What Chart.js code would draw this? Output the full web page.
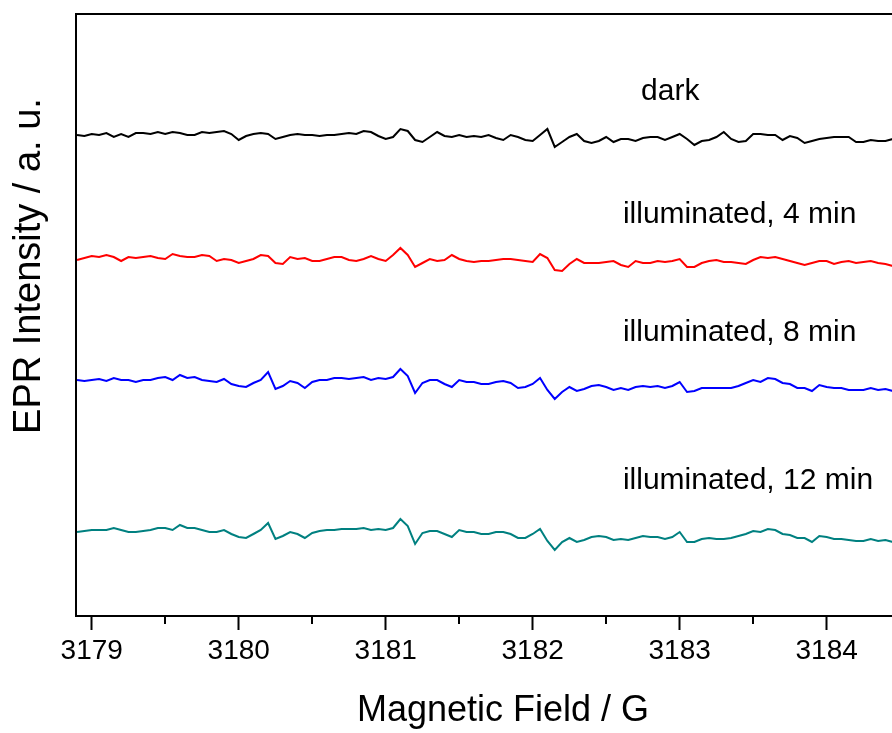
<!DOCTYPE html>
<html>
<head>
<meta charset="utf-8">
<title>EPR spectra</title>
<script src="https://cdn.jsdelivr.net/npm/chart.js@4.4.1/dist/chart.umd.min.js"></script>
<style>
  html, body { margin: 0; padding: 0; background: #fff; overflow: hidden; }
  #wrap { width: 892px; height: 733px; overflow: hidden; }
</style>
</head>
<body>
<div id="wrap"><canvas id="eprChart" width="930" height="733"></canvas></div>
<script>
'use strict';

/* --------------------------------------------------------------------------
   DATA — magnetic field (G) and stacked EPR traces (arbitrary units)
   -------------------------------------------------------------------------- */
const fieldG = [
    3178.90, 3178.95, 3179.00, 3179.05, 3179.10, 3179.15, 3179.20, 3179.25, 3179.30, 3179.35,
    3179.40, 3179.45, 3179.50, 3179.55, 3179.60, 3179.65, 3179.70, 3179.75, 3179.80, 3179.85,
    3179.90, 3179.95, 3180.00, 3180.05, 3180.10, 3180.15, 3180.20, 3180.25, 3180.30, 3180.35,
    3180.40, 3180.45, 3180.50, 3180.55, 3180.60, 3180.65, 3180.70, 3180.75, 3180.80, 3180.85,
    3180.90, 3180.95, 3181.00, 3181.05, 3181.10, 3181.15, 3181.20, 3181.25, 3181.30, 3181.35,
    3181.40, 3181.45, 3181.50, 3181.55, 3181.60, 3181.65, 3181.70, 3181.75, 3181.80, 3181.85,
    3181.90, 3181.95, 3182.00, 3182.05, 3182.10, 3182.15, 3182.20, 3182.25, 3182.30, 3182.35,
    3182.40, 3182.45, 3182.50, 3182.55, 3182.60, 3182.65, 3182.70, 3182.75, 3182.80, 3182.85,
    3182.90, 3182.95, 3183.00, 3183.05, 3183.10, 3183.15, 3183.20, 3183.25, 3183.30, 3183.35,
    3183.40, 3183.45, 3183.50, 3183.55, 3183.60, 3183.65, 3183.70, 3183.75, 3183.80, 3183.85,
    3183.90, 3183.95, 3184.00, 3184.05, 3184.10, 3184.15, 3184.20, 3184.25, 3184.30, 3184.35,
    3184.40, 3184.45
];

const darkTrace = [
    481, 480, 482, 481, 483, 479, 482, 479, 483, 483,
    482, 484, 482, 484, 483, 481, 481, 484, 483, 484,
    485, 482, 476, 480, 482, 483, 482, 477, 479, 481,
    482, 481, 481, 480, 481, 481, 482, 483, 482, 485,
    484, 480, 477, 479, 487, 485, 476, 474, 479, 484,
    480, 479, 481, 479, 480, 479, 481, 478, 476, 481,
    479, 476, 475, 481, 487, 469, 474, 479, 482, 475,
    473, 475, 479, 474, 477, 477, 475, 478, 479, 479,
    476, 479, 482, 477, 471, 475, 476, 479, 484, 477,
    474, 475, 482, 482, 481, 481, 476, 480, 478, 473,
    475, 477, 478, 479, 479, 479, 474, 474, 476, 475,
    475, 477
];

const illum4Trace = [
    356, 358, 360, 359, 361, 359, 355, 359, 358, 359,
    360, 358, 357, 362, 360, 359, 359, 361, 360, 355,
    357, 356, 353, 355, 357, 361, 360, 353, 352, 359,
    357, 358, 355, 355, 357, 359, 359, 356, 355, 357,
    360, 357, 355, 361, 368, 361, 349, 353, 357, 355,
    356, 361, 357, 355, 354, 355, 355, 356, 357, 357,
    356, 355, 354, 362, 358, 346, 345, 352, 357, 353,
    353, 353, 354, 355, 351, 349, 355, 353, 353, 355,
    354, 355, 357, 349, 349, 353, 355, 356, 354, 354,
    353, 352, 356, 359, 358, 359, 357, 355, 353, 351,
    353, 355, 355, 352, 354, 355, 353, 354, 355, 353,
    352, 350
];

const illum8Trace = [
    236, 235, 236, 237, 235, 238, 236, 236, 234, 236,
    236, 238, 239, 236, 241, 238, 239, 236, 235, 234,
    237, 232, 230, 229, 233, 236, 244, 227, 230, 235,
    233, 228, 234, 236, 236, 238, 238, 237, 238, 239,
    236, 238, 237, 239, 247, 240, 223, 233, 236, 236,
    232, 229, 236, 234, 234, 232, 232, 234, 235, 233,
    228, 229, 232, 238, 226, 217, 224, 229, 225, 227,
    230, 231, 229, 226, 228, 226, 229, 230, 229, 230,
    228, 230, 234, 224, 225, 228, 228, 228, 228, 228,
    230, 233, 236, 234, 238, 237, 233, 232, 228, 228,
    225, 231, 229, 228, 228, 226, 226, 226, 228, 226,
    227, 225
];

const illum12Trace = [
    84, 85, 86, 86, 86, 88, 86, 84, 84, 85,
    86, 88, 88, 86, 91, 88, 88, 86, 84, 84,
    86, 82, 79, 78, 82, 86, 93, 77, 80, 84,
    82, 78, 83, 85, 86, 86, 87, 87, 87, 88,
    86, 87, 86, 88, 97, 90, 72, 83, 85, 85,
    82, 79, 86, 84, 84, 82, 82, 84, 84, 82,
    78, 78, 82, 87, 75, 66, 74, 78, 74, 76,
    79, 80, 79, 76, 77, 76, 78, 80, 79, 79,
    77, 79, 84, 74, 74, 77, 78, 77, 77, 78,
    80, 82, 85, 84, 87, 86, 82, 81, 78, 78,
    74, 80, 79, 77, 77, 76, 75, 75, 77, 75,
    76, 74
];

const majorTicks = [3179, 3180, 3181, 3182, 3183, 3184];
const minorTicks = [3179.5, 3180.5, 3181.5, 3182.5, 3183.5];

const traceNames = ['dark', 'illuminated, 4 min', 'illuminated, 8 min', 'illuminated, 12 min'];
// label anchors, in field (G) / intensity units
const labelField = [3182.737, 3182.614, 3182.614, 3182.614];
const labelLevel = [516, 393, 275, 127];

/* --------------------------------------------------------------------------
   CHART
   -------------------------------------------------------------------------- */
const FONT = '"Liberation Sans", Arial, sans-serif';
Chart.defaults.font.family = FONT;
Chart.defaults.color = '#000';

const toPoints = trace => fieldG.map((f, i) => ({ x: f, y: trace[i] }));

// frame, minor ticks, trace labels and y title
const framePlugin = {
    id: 'eprFrame',
    afterDraw(chart) {
        const { ctx, chartArea: a, scales: { x, y } } = chart;
        ctx.save();
        ctx.strokeStyle = '#000';
        ctx.lineWidth = 2;
        ctx.strokeRect(a.left, a.top, a.right - a.left, a.bottom - a.top);

        minorTicks.forEach(v => {
            const px = Math.round(x.getPixelForValue(v));
            ctx.beginPath();
            ctx.moveTo(px, a.bottom);
            ctx.lineTo(px, a.bottom + 8);
            ctx.stroke();
        });

        ctx.fillStyle = '#000';
        ctx.font = '30px ' + FONT;
        ctx.textAlign = 'left';
        ctx.textBaseline = 'alphabetic';
        traceNames.forEach((t, i) => {
            ctx.fillText(t, x.getPixelForValue(labelField[i]), y.getPixelForValue(labelLevel[i]));
        });

        ctx.translate(30, 266);
        ctx.rotate(-Math.PI / 2);
        ctx.font = '38px ' + FONT;
        ctx.textAlign = 'center';
        ctx.textBaseline = 'middle';
        ctx.fillText('EPR Intensity / a. u.', 0, 0);
        ctx.restore();
    },
};

const series = [
    { label: traceNames[0], data: darkTrace, color: '#000000' },
    { label: traceNames[1], data: illum4Trace, color: '#FF0000' },
    { label: traceNames[2], data: illum8Trace, color: '#0000FF' },
    { label: traceNames[3], data: illum12Trace, color: '#008080' },
];

new Chart(document.getElementById('eprChart').getContext('2d'), {
    type: 'line',
    data: {
        datasets: series.map(s => ({
            label: s.label,
            data: toPoints(s.data),
            borderColor: s.color,
            borderWidth: 2,
            pointRadius: 0,
            tension: 0,
            fill: false,
        })),
    },
    options: {
        responsive: false,
        animation: false,
        devicePixelRatio: 1,
        layout: { padding: { top: 14, left: 0, right: 0, bottom: 0 } },
        plugins: { legend: { display: false }, tooltip: { enabled: false } },
        scales: {
            x: {
                type: 'linear',
                min: 3178.893,
                max: 3184.703,
                afterBuildTicks: s => { s.ticks = majorTicks.map(v => ({ value: v })); },
                afterFit: s => { s.height = 117; },
                ticks: {
                    font: { size: 28 },
                    color: '#000',
                    padding: 4,
                    maxRotation: 0,
                    autoSkip: false,
                    callback: v => String(v),
                },
                grid: { drawOnChartArea: false, drawTicks: true, tickLength: 14, tickWidth: 2, tickColor: '#000' },
                border: { display: false },
                title: { display: true, text: 'Magnetic Field / G', font: { size: 36 }, color: '#000', padding: { top: 0, bottom: 0 } },
            },
            y: {
                min: 0,
                max: 602,
                afterFit: s => { s.width = 76; },
                ticks: { display: false },
                grid: { display: false, drawTicks: false },
                border: { display: false },
            },
        },
    },
    plugins: [framePlugin],
});
</script>
</body>
</html>
